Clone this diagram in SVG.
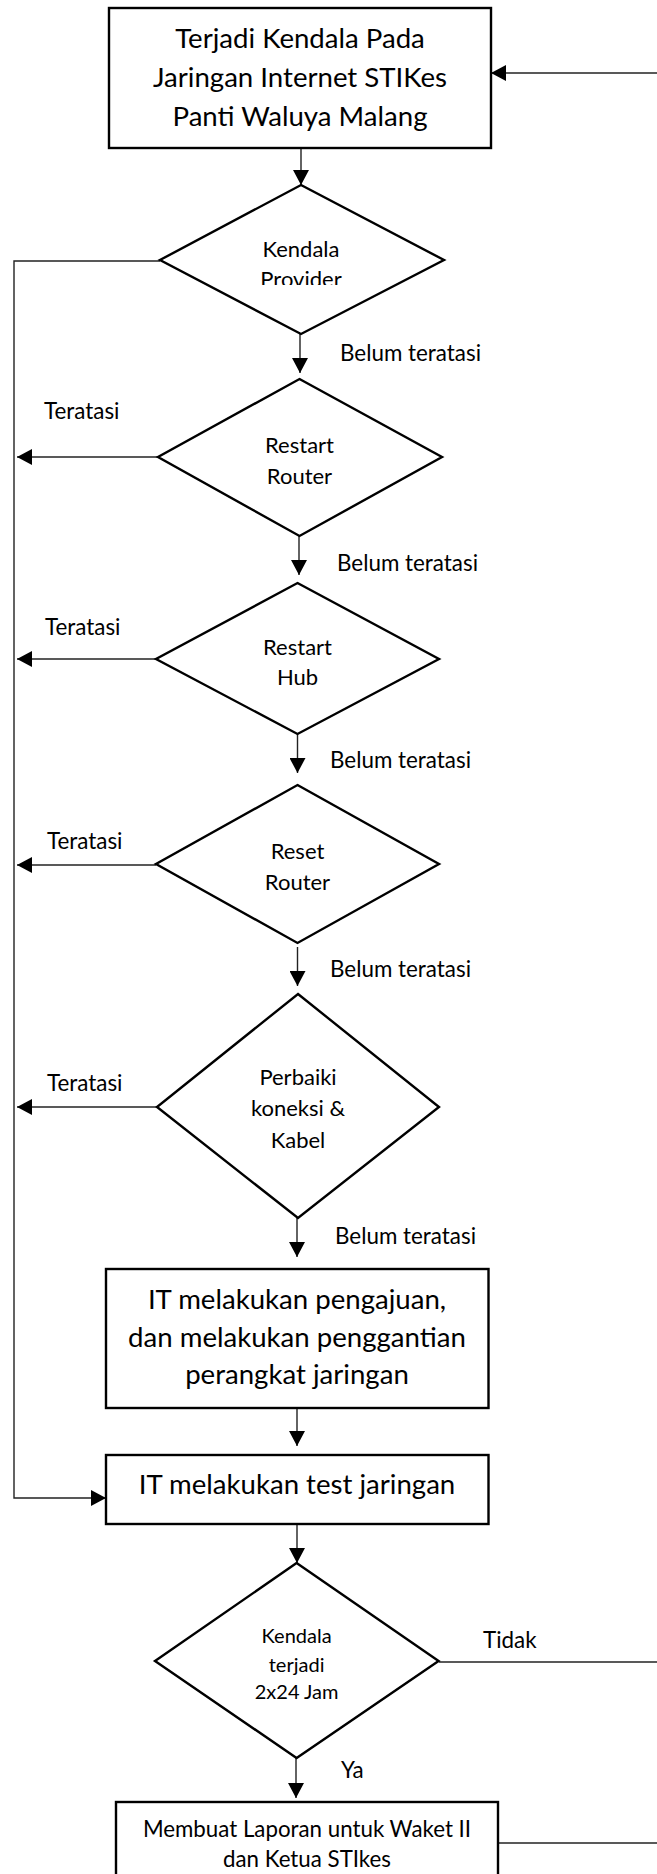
<svg xmlns="http://www.w3.org/2000/svg" width="657" height="1874" viewBox="0 0 657 1874">
<style>
.shape{fill:#fff;stroke:#000;stroke-width:2.4}
.conn{fill:none;stroke:#222;stroke-width:1.4}
text{font-family:Lato,"Liberation Sans",sans-serif;fill:#000;text-anchor:middle}
.big{font-size:27.6px}
.mid{font-size:22px}
.sm{font-size:20px}
.lbl{font-size:22.4px;text-anchor:start}
.rep{font-size:22.3px}
</style>
<defs>
<marker id="ah" viewBox="0 0 15 16" refX="15" refY="8" markerWidth="15" markerHeight="16" markerUnits="userSpaceOnUse" orient="auto">
<path d="M0,0 L15,8 L0,16 z" fill="#000"/>
</marker>
<clipPath id="clipD1"><rect x="150" y="180" width="300" height="105"/></clipPath>
</defs>
<rect width="657" height="1874" fill="#fff"/>

<g id="connectors">
<line class="conn" x1="301" y1="148" x2="301" y2="185" marker-end="url(#ah)"/>
<line class="conn" x1="300" y1="334" x2="300" y2="373" marker-end="url(#ah)"/>
<line class="conn" x1="299" y1="536" x2="299" y2="575" marker-end="url(#ah)"/>
<line class="conn" x1="297.5" y1="734" x2="297.5" y2="773" marker-end="url(#ah)"/>
<line class="conn" x1="297.5" y1="947" x2="297.5" y2="986" marker-end="url(#ah)"/>
<line class="conn" x1="297" y1="1218" x2="297" y2="1257" marker-end="url(#ah)"/>
<line class="conn" x1="297" y1="1408" x2="297" y2="1446" marker-end="url(#ah)"/>
<line class="conn" x1="297" y1="1524" x2="297" y2="1563" marker-end="url(#ah)"/>
<line class="conn" x1="296" y1="1758" x2="296" y2="1798" marker-end="url(#ah)"/>
<polyline class="conn" points="160,261 14,261 14,1498 106,1498" marker-end="url(#ah)"/>
<line class="conn" x1="158" y1="457" x2="17" y2="457" marker-end="url(#ah)"/>
<line class="conn" x1="156" y1="659" x2="17" y2="659" marker-end="url(#ah)"/>
<line class="conn" x1="156" y1="865" x2="17" y2="865" marker-end="url(#ah)"/>
<line class="conn" x1="157" y1="1107" x2="17" y2="1107" marker-end="url(#ah)"/>
<line class="conn" x1="657" y1="73" x2="491" y2="73" marker-end="url(#ah)"/>
<line class="conn" x1="439" y1="1662" x2="657" y2="1662"/>
<line class="conn" x1="498" y1="1843" x2="657" y2="1843"/>
</g>

<g id="labels">
<text class="lbl" x="340" y="361">Belum teratasi</text>
<text class="lbl" x="337" y="571">Belum teratasi</text>
<text class="lbl" x="330" y="768">Belum teratasi</text>
<text class="lbl" x="330" y="977">Belum teratasi</text>
<text class="lbl" x="335" y="1244">Belum teratasi</text>
<text class="lbl" x="44" y="419">Teratasi</text>
<text class="lbl" x="45" y="635">Teratasi</text>
<text class="lbl" x="47" y="849">Teratasi</text>
<text class="lbl" x="47" y="1091">Teratasi</text>
<text class="lbl" x="483" y="1648">Tidak</text>
<text class="lbl" x="341" y="1778">Ya</text>
</g>

<g id="n-start">
<rect class="shape" x="109" y="8" width="382" height="140"/>
<text class="big" x="300" y="48">Terjadi Kendala Pada</text>
<text class="big" x="300" y="87">Jaringan Internet STIKes</text>
<text class="big" x="300" y="126">Panti Waluya Malang</text>
</g>

<g id="n-provider">
<polygon class="shape" points="301,185 444,260 301,334 160,260"/>
<g clip-path="url(#clipD1)">
<text class="mid" x="301" y="257">Kendala</text>
<text class="mid" x="301" y="287">Provider</text>
</g>
</g>

<g id="n-restart-router">
<polygon class="shape" points="299.5,379 442,457 299.5,536 158,457"/>
<text class="mid" x="299.5" y="453">Restart</text>
<text class="mid" x="299.5" y="484">Router</text>
</g>

<g id="n-restart-hub">
<polygon class="shape" points="297.5,583 439,659 297.5,734 156,659"/>
<text class="mid" x="297.5" y="655">Restart</text>
<text class="mid" x="297.5" y="685">Hub</text>
</g>

<g id="n-reset-router">
<polygon class="shape" points="297.5,785 439,864 297.5,943 156,864"/>
<text class="mid" x="297.5" y="859">Reset</text>
<text class="mid" x="297.5" y="890">Router</text>
</g>

<g id="n-perbaiki">
<polygon class="shape" points="298,994 439,1107 298,1218 157,1107"/>
<text class="mid" x="298" y="1085">Perbaiki</text>
<text class="mid" x="298" y="1116">koneksi &amp;</text>
<text class="mid" x="298" y="1148">Kabel</text>
</g>

<g id="n-pengajuan">
<rect class="shape" x="106" y="1269" width="382.5" height="139"/>
<text class="big" x="297" y="1309">IT melakukan pengajuan,</text>
<text class="big" x="297" y="1347">dan melakukan penggantian</text>
<text class="big" x="297" y="1384">perangkat jaringan</text>
</g>

<g id="n-test">
<rect class="shape" x="106" y="1455" width="382.5" height="69"/>
<text class="big" x="297" y="1494">IT melakukan test jaringan</text>
</g>

<g id="n-kendala-2x24">
<polygon class="shape" points="296.6,1563 438.6,1661 296.6,1758 155,1661"/>
<text class="sm" x="296.6" y="1643">Kendala</text>
<text class="sm" x="296.6" y="1672">terjadi</text>
<text class="sm" x="296.6" y="1699">2x24 Jam</text>
</g>

<g id="n-laporan">
<rect class="shape" x="116" y="1802" width="382" height="90"/>
<text class="rep" x="307" y="1837">Membuat Laporan untuk Waket II</text>
<text class="rep" x="307" y="1867">dan Ketua STIkes</text>
</g>
</svg>
